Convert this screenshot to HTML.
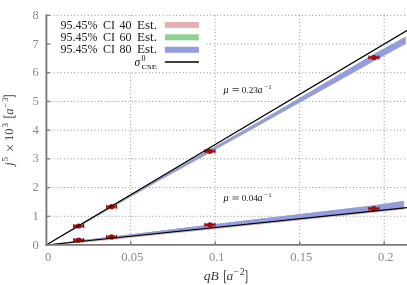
<!DOCTYPE html><html><head><meta charset="utf-8"><style>html,body{margin:0;padding:0;background:#fff}svg{display:block}text{filter:url(#idf)}text{font-family:"Liberation Serif",serif}</style></head><body>
<svg width="407" height="285" viewBox="0 0 407 285">
<defs><filter id="idf" x="-10%" y="-10%" width="120%" height="120%" color-interpolation-filters="sRGB"><feOffset dx="0" dy="0"/></filter></defs><rect width="407" height="285" fill="#fff"/>
<line x1="50.400000000000006" x2="407" y1="216.29" y2="216.29" stroke="#666666" stroke-width="0.85" stroke-dasharray="0.85 2.55"/>
<line x1="50.400000000000006" x2="407" y1="187.58" y2="187.58" stroke="#666666" stroke-width="0.85" stroke-dasharray="0.85 2.55"/>
<line x1="50.400000000000006" x2="407" y1="158.87" y2="158.87" stroke="#666666" stroke-width="0.85" stroke-dasharray="0.85 2.55"/>
<line x1="50.400000000000006" x2="407" y1="130.16" y2="130.16" stroke="#666666" stroke-width="0.85" stroke-dasharray="0.85 2.55"/>
<line x1="50.400000000000006" x2="407" y1="101.45" y2="101.45" stroke="#666666" stroke-width="0.85" stroke-dasharray="0.85 2.55"/>
<line x1="50.400000000000006" x2="407" y1="72.74" y2="72.74" stroke="#666666" stroke-width="0.85" stroke-dasharray="0.85 2.55"/>
<line x1="50.400000000000006" x2="407" y1="44.03" y2="44.03" stroke="#666666" stroke-width="0.85" stroke-dasharray="0.85 2.55"/>
<line x1="50.400000000000006" x2="407" y1="15.32" y2="15.32" stroke="#666666" stroke-width="0.85" stroke-dasharray="0.85 2.55"/>
<line x1="130.70" x2="130.70" y1="15.32" y2="245.0" stroke="#666666" stroke-width="0.85" stroke-dasharray="0.85 2.55"/>
<line x1="215.20" x2="215.20" y1="15.32" y2="245.0" stroke="#666666" stroke-width="0.85" stroke-dasharray="0.85 2.55"/>
<line x1="299.70" x2="299.70" y1="15.32" y2="245.0" stroke="#666666" stroke-width="0.85" stroke-dasharray="0.85 2.55"/>
<line x1="384.20" x2="384.20" y1="15.32" y2="245.0" stroke="#666666" stroke-width="0.85" stroke-dasharray="0.85 2.55"/>
<polygon points="46.20,245.00 78.90,225.26 111.60,205.92 160.00,177.75 209.70,149.60 250.00,126.84 290.00,103.66 330.00,79.98 373.20,54.60 406.00,36.60 406.00,43.90 373.20,61.80 330.00,85.92 290.00,108.26 250.00,130.60 209.70,153.10 160.00,180.45 111.60,208.02 78.90,227.06 46.20,245.00" fill="#e6b0b0"/>
<polygon points="46.20,245.00 78.90,225.26 111.60,205.92 160.00,177.75 209.70,149.60 250.00,126.84 290.00,103.66 330.00,79.98 373.20,54.60 405.50,36.90 405.50,43.85 373.20,61.45 330.00,85.57 290.00,107.91 250.00,130.25 209.70,152.75 160.00,180.10 111.60,207.67 78.90,226.71 46.20,245.00" fill="#8fd18f"/>
<polygon points="46.20,245.00 78.90,225.26 111.60,205.92 160.00,177.75 209.70,149.60 250.00,126.84 290.00,103.66 330.00,79.98 373.20,54.60 405.20,37.07 405.20,43.67 373.20,61.10 330.00,85.22 290.00,107.56 250.00,129.90 209.70,152.40 160.00,179.75 111.60,207.32 78.90,226.36 46.20,245.00" fill="#949ce1"/>
<polygon points="46.20,245.00 78.90,240.61 111.60,236.72 209.70,224.65 373.20,205.49 404.30,200.87 404.30,209.47 373.20,212.69 209.70,229.65 111.60,239.72 78.90,243.01 46.20,245.00" fill="#e6b0b0"/>
<polygon points="46.20,245.00 78.90,240.61 111.60,236.72 209.70,224.65 373.20,205.49 404.00,200.90 404.00,208.90 373.20,212.09 209.70,229.05 111.60,239.12 78.90,242.41 46.20,245.00" fill="#8fd18f"/>
<polygon points="46.20,245.00 78.90,240.61 111.60,236.72 209.70,224.65 373.20,205.49 403.70,200.93 403.70,208.43 373.20,211.59 209.70,228.55 111.60,238.62 78.90,241.91 46.20,245.00" fill="#949ce1"/>
<g stroke="#a50c0c" fill="#a50c0c"><line x1="73.40" x2="84.00" y1="226.00" y2="226.00" stroke-width="1.7"/><line x1="73.80" x2="73.80" y1="224.00" y2="228.00" stroke-width="1.3"/><line x1="83.60" x2="83.60" y1="224.00" y2="228.00" stroke-width="1.3"/><rect x="75.10" y="224.40" width="7.2" height="3.2" stroke="none" opacity="0.75"/><circle cx="78.70" cy="226.00" r="2.6" stroke="none"/></g>
<g stroke="#a50c0c" fill="#a50c0c"><line x1="106.30" x2="116.90" y1="206.70" y2="206.70" stroke-width="1.7"/><line x1="106.70" x2="106.70" y1="204.70" y2="208.70" stroke-width="1.3"/><line x1="116.50" x2="116.50" y1="204.70" y2="208.70" stroke-width="1.3"/><rect x="108.00" y="205.10" width="7.2" height="3.2" stroke="none" opacity="0.75"/><circle cx="111.60" cy="206.70" r="2.6" stroke="none"/></g>
<g stroke="#a50c0c" fill="#a50c0c"><line x1="204.60" x2="215.20" y1="151.30" y2="151.30" stroke-width="1.7"/><line x1="205.00" x2="205.00" y1="149.30" y2="153.30" stroke-width="1.3"/><line x1="214.80" x2="214.80" y1="149.30" y2="153.30" stroke-width="1.3"/><rect x="206.30" y="149.70" width="7.2" height="3.2" stroke="none" opacity="0.75"/><circle cx="209.90" cy="151.30" r="2.6" stroke="none"/></g>
<g stroke="#a50c0c" fill="#a50c0c"><line x1="368.60" x2="379.20" y1="57.50" y2="57.50" stroke-width="1.7"/><line x1="369.00" x2="369.00" y1="55.50" y2="59.50" stroke-width="1.3"/><line x1="378.80" x2="378.80" y1="55.50" y2="59.50" stroke-width="1.3"/><rect x="370.30" y="55.90" width="7.2" height="3.2" stroke="none" opacity="0.75"/><circle cx="373.90" cy="57.50" r="2.6" stroke="none"/></g>
<g stroke="#a50c0c" fill="#a50c0c"><line x1="73.40" x2="84.00" y1="240.00" y2="240.00" stroke-width="1.7"/><line x1="73.80" x2="73.80" y1="238.00" y2="242.00" stroke-width="1.3"/><line x1="83.60" x2="83.60" y1="238.00" y2="242.00" stroke-width="1.3"/><rect x="75.10" y="238.40" width="7.2" height="3.2" stroke="none" opacity="0.75"/><circle cx="78.70" cy="240.00" r="2.6" stroke="none"/></g>
<g stroke="#a50c0c" fill="#a50c0c"><line x1="106.30" x2="116.90" y1="236.90" y2="236.90" stroke-width="1.7"/><line x1="106.70" x2="106.70" y1="234.90" y2="238.90" stroke-width="1.3"/><line x1="116.50" x2="116.50" y1="234.90" y2="238.90" stroke-width="1.3"/><rect x="108.00" y="235.30" width="7.2" height="3.2" stroke="none" opacity="0.75"/><circle cx="111.60" cy="236.90" r="2.6" stroke="none"/></g>
<g stroke="#a50c0c" fill="#a50c0c"><line x1="204.60" x2="215.20" y1="224.80" y2="224.80" stroke-width="1.7"/><line x1="205.00" x2="205.00" y1="222.80" y2="226.80" stroke-width="1.3"/><line x1="214.80" x2="214.80" y1="222.80" y2="226.80" stroke-width="1.3"/><rect x="206.30" y="223.20" width="7.2" height="3.2" stroke="none" opacity="0.75"/><circle cx="209.90" cy="224.80" r="2.6" stroke="none"/></g>
<g stroke="#a50c0c" fill="#a50c0c"><line x1="368.60" x2="379.20" y1="208.70" y2="208.70" stroke-width="1.7"/><line x1="369.00" x2="369.00" y1="206.70" y2="210.70" stroke-width="1.3"/><line x1="378.80" x2="378.80" y1="206.70" y2="210.70" stroke-width="1.3"/><rect x="370.30" y="207.10" width="7.2" height="3.2" stroke="none" opacity="0.75"/><circle cx="373.90" cy="208.70" r="2.6" stroke="none"/></g>
<line x1="46.2" y1="245.0" x2="408" y2="29.91" stroke="#000" stroke-width="1.25"/>
<line x1="46.2" y1="245.0" x2="408" y2="207.48" stroke="#000" stroke-width="1.25"/>
<line x1="46.400000000000006" x2="46.400000000000006" y1="14.52" y2="245.8" stroke="#7a7a7a" stroke-width="1.9"/>
<line x1="45.45" x2="407" y1="244.85" y2="244.85" stroke="#7a7a7a" stroke-width="1.9"/>
<line x1="46.2" x2="49.800000000000004" y1="216.29" y2="216.29" stroke="#7a7a7a" stroke-width="1.4"/>
<line x1="46.2" x2="49.800000000000004" y1="187.58" y2="187.58" stroke="#7a7a7a" stroke-width="1.4"/>
<line x1="46.2" x2="49.800000000000004" y1="158.87" y2="158.87" stroke="#7a7a7a" stroke-width="1.4"/>
<line x1="46.2" x2="49.800000000000004" y1="130.16" y2="130.16" stroke="#7a7a7a" stroke-width="1.4"/>
<line x1="46.2" x2="49.800000000000004" y1="101.45" y2="101.45" stroke="#7a7a7a" stroke-width="1.4"/>
<line x1="46.2" x2="49.800000000000004" y1="72.74" y2="72.74" stroke="#7a7a7a" stroke-width="1.4"/>
<line x1="46.2" x2="49.800000000000004" y1="44.03" y2="44.03" stroke="#7a7a7a" stroke-width="1.4"/>
<line x1="46.2" x2="49.800000000000004" y1="15.32" y2="15.32" stroke="#7a7a7a" stroke-width="1.4"/>
<line x1="130.70" x2="130.70" y1="245.0" y2="241.4" stroke="#7a7a7a" stroke-width="1.4"/>
<line x1="215.20" x2="215.20" y1="245.0" y2="241.4" stroke="#7a7a7a" stroke-width="1.4"/>
<line x1="299.70" x2="299.70" y1="245.0" y2="241.4" stroke="#7a7a7a" stroke-width="1.4"/>
<line x1="384.20" x2="384.20" y1="245.0" y2="241.4" stroke="#7a7a7a" stroke-width="1.4"/>
<text x="38.7" y="248.50" font-size="12.5" fill="#8a8a8a" text-anchor="end">0</text>
<text x="38.7" y="219.79" font-size="12.5" fill="#8a8a8a" text-anchor="end">1</text>
<text x="38.7" y="191.08" font-size="12.5" fill="#8a8a8a" text-anchor="end">2</text>
<text x="38.7" y="162.37" font-size="12.5" fill="#8a8a8a" text-anchor="end">3</text>
<text x="38.7" y="133.66" font-size="12.5" fill="#8a8a8a" text-anchor="end">4</text>
<text x="38.7" y="104.95" font-size="12.5" fill="#8a8a8a" text-anchor="end">5</text>
<text x="38.7" y="76.24" font-size="12.5" fill="#8a8a8a" text-anchor="end">6</text>
<text x="38.7" y="47.53" font-size="12.5" fill="#8a8a8a" text-anchor="end">7</text>
<text x="38.7" y="18.82" font-size="12.5" fill="#8a8a8a" text-anchor="end">8</text>
<text x="48.00" y="260.9" font-size="12.5" fill="#8a8a8a" text-anchor="middle">0</text>
<text x="132.20" y="260.9" font-size="12.5" fill="#8a8a8a" text-anchor="middle">0.05</text>
<text x="216.70" y="260.9" font-size="12.5" fill="#8a8a8a" text-anchor="middle">0.1</text>
<text x="301.20" y="260.9" font-size="12.5" fill="#8a8a8a" text-anchor="middle">0.15</text>
<text x="385.70" y="260.9" font-size="12.5" fill="#8a8a8a" text-anchor="middle">0.2</text>
<rect x="52" y="16.4" width="153" height="54.2" fill="#fff"/>
<text y="28.8" font-size="12" fill="#1a1a1a"><tspan x="60.5">95.45%</tspan><tspan x="102.9">CI</tspan><tspan x="119.5">40</tspan><tspan x="137.0" textLength="20" lengthAdjust="spacingAndGlyphs">Est.</tspan></text>
<rect x="164.9" y="21.90" width="34" height="6" fill="#e6b0b0"/>
<text y="40.8" font-size="12" fill="#1a1a1a"><tspan x="60.5">95.45%</tspan><tspan x="102.9">CI</tspan><tspan x="119.5">60</tspan><tspan x="137.0" textLength="20" lengthAdjust="spacingAndGlyphs">Est.</tspan></text>
<rect x="164.9" y="34.30" width="34" height="6" fill="#8fd18f"/>
<text y="53.0" font-size="12" fill="#1a1a1a"><tspan x="60.5">95.45%</tspan><tspan x="102.9">CI</tspan><tspan x="119.5">80</tspan><tspan x="137.0" textLength="20" lengthAdjust="spacingAndGlyphs">Est.</tspan></text>
<rect x="164.9" y="46.80" width="34" height="6" fill="#949ce1"/>
<line x1="164.9" x2="198.9" y1="62" y2="62" stroke="#000" stroke-width="1.3"/>
<text x="134.6" y="65.6" font-size="11.5" font-style="italic" fill="#000">σ</text>
<text x="141.6" y="61.3" font-size="8" fill="#000">0</text>
<text x="141.4" y="68.7" font-size="6.4" fill="#000" textLength="15.6" lengthAdjust="spacingAndGlyphs">CSE</text>
<rect x="219" y="81.6" width="58" height="15" fill="#fff"/><text y="92.6" font-size="9.2" fill="#111"><tspan x="223.4" font-style="italic" font-size="10">μ</tspan><tspan x="241.8">0.23</tspan><tspan x="257.6" font-style="italic" font-size="10">a</tspan><tspan x="264.2" dy="-3.6" font-size="7">−1</tspan></text><path d="M232.4 88.50h6.4M232.4 90.60h6.4" stroke="#222" stroke-width="0.7" fill="none"/>
<rect x="219" y="190.0" width="58" height="15" fill="#fff"/><text y="201.0" font-size="9.2" fill="#111"><tspan x="223.4" font-style="italic" font-size="10">μ</tspan><tspan x="241.8">0.04</tspan><tspan x="257.6" font-style="italic" font-size="10">a</tspan><tspan x="264.2" dy="-3.6" font-size="7">−1</tspan></text><path d="M232.4 196.90h6.4M232.4 199.00h6.4" stroke="#222" stroke-width="0.7" fill="none"/>
<text y="280" font-size="13.5" fill="#3a3a3a"><tspan x="203.8" font-style="italic">q</tspan><tspan x="210.5" font-style="italic">B</tspan><tspan x="226.4" font-style="italic">a</tspan><tspan x="233.6" dy="-5.3" font-size="10">−</tspan><tspan x="239.8" font-size="10">2</tspan></text>
<path d="M226.2 270.6H224.5V282.8H226.2M245.2 270.6H246.9V282.8H245.2" fill="none" stroke="#3a3a3a" stroke-width="0.9"/>
<g transform="translate(13.1,166) rotate(-90)"><text y="0" font-size="12.6" fill="#3a3a3a"><tspan x="0.2" font-style="italic">j</tspan><tspan x="4.6" dy="-4.6" font-size="9">5</tspan><tspan x="13.9" dy="6.2" font-size="14.5">×</tspan><tspan x="25.0" dy="-1.6">10</tspan><tspan x="38.6" dy="-4.6" font-size="9">3</tspan><tspan x="51.3" dy="4.6" font-style="italic">a</tspan><tspan x="57.8" dy="-4.6" font-size="9">−</tspan><tspan x="63.9" font-size="9">3</tspan></text></g>
<path d="M3.8 115.6V117.2H15.3V115.6M3.8 97.2V95.7H15.3V97.2" fill="none" stroke="#3a3a3a" stroke-width="0.9"/>
</svg></body></html>
